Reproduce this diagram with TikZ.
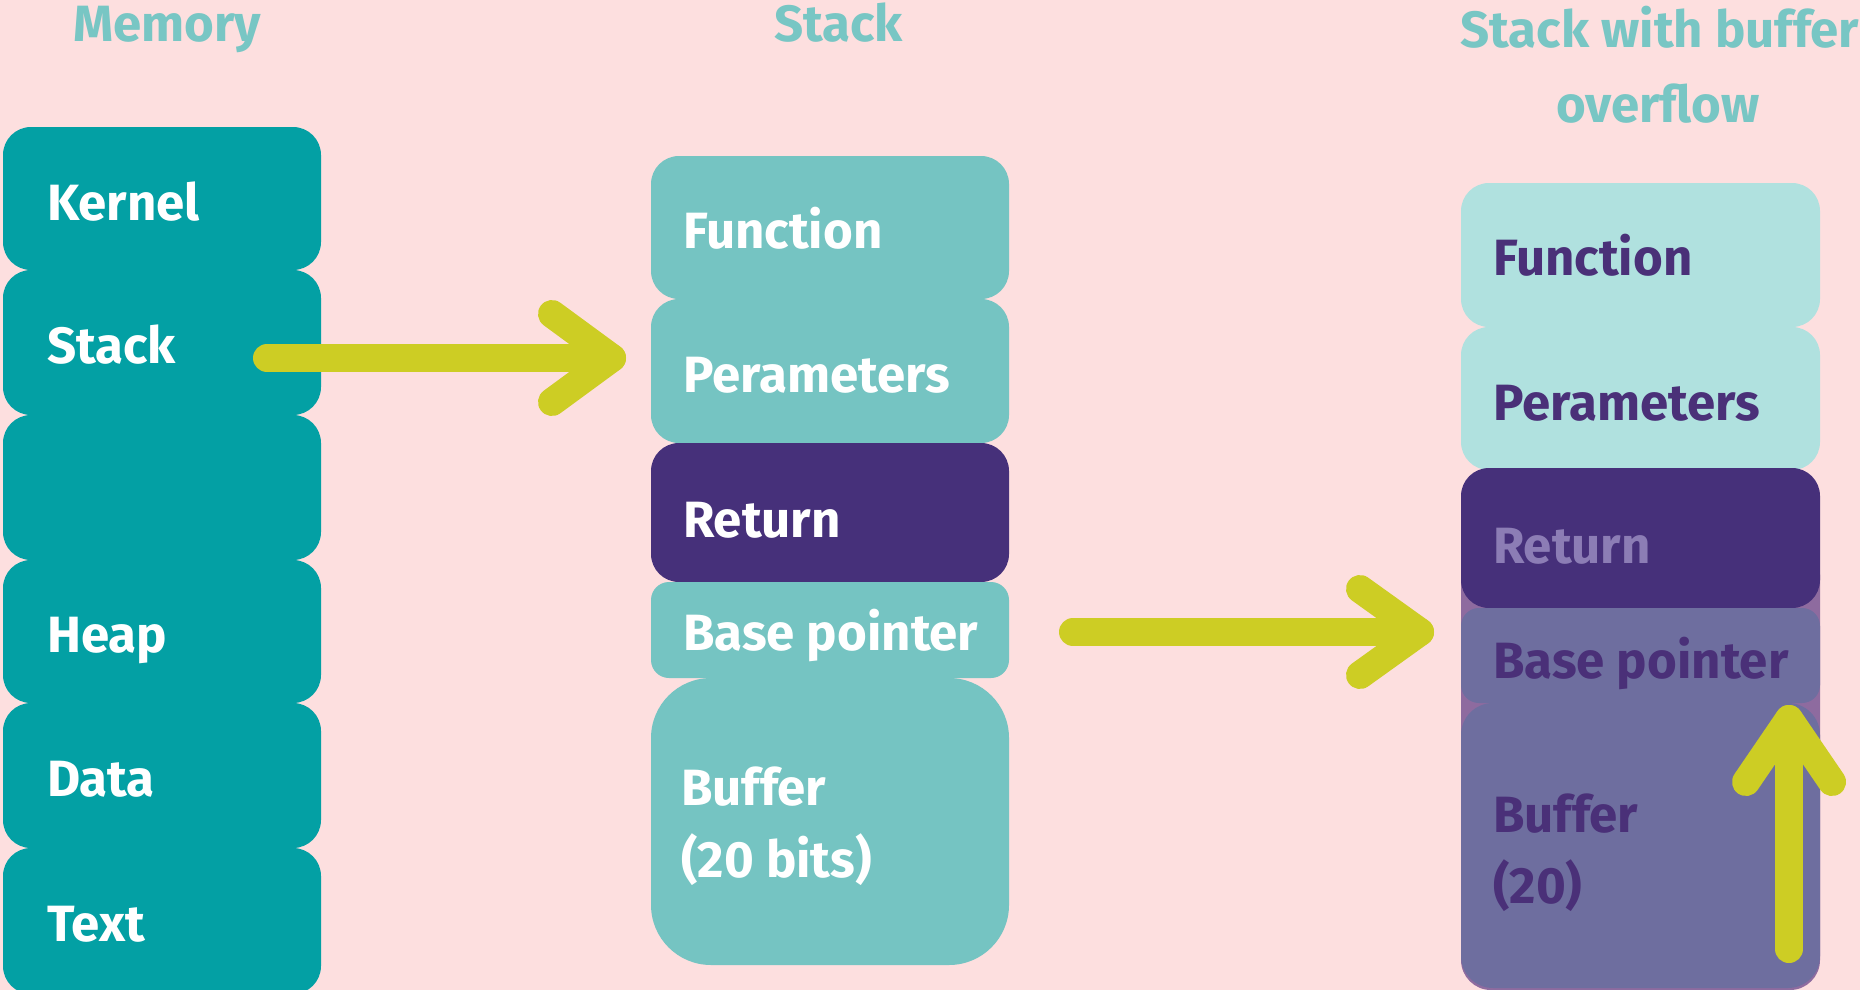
\documentclass[tikz,border=0pt]{standalone}
\usepackage{fontspec}
\setmainfont{Fira Sans}
\definecolor{bgpink}{HTML}{FDDFDF}
\definecolor{memteal}{HTML}{03A0A4}
\definecolor{stackteal}{HTML}{75C4C2}
\definecolor{paleteal}{HTML}{B0E1DF}
\definecolor{titleteal}{HTML}{78C6C4}
\definecolor{deeppurple}{HTML}{46307A}
\definecolor{greypurple}{HTML}{6E6E9F}
\definecolor{mauve}{HTML}{8E6B9F}
\definecolor{fadedpurple}{HTML}{8C7DB5}
\definecolor{inkpurple}{HTML}{4A3078}
\definecolor{arrowyellow}{HTML}{CDCD24}
\tikzset{
  cell/.style={rectangle, inner sep=0pt, outer sep=0pt, anchor=north west,
    rounded corners=28pt},
  memcell/.style={cell, fill=memteal, minimum width=318pt},
  midcell/.style={cell, minimum width=358pt},
  rightcell/.style={cell, minimum width=359pt},
  lbl/.style={anchor=base west, inner sep=0pt,
    font=\fontsize{51}{60}\selectfont\bfseries},
  title/.style={lbl, text=titleteal},
  thick arrow/.style={draw=arrowyellow, line width=28pt, line cap=round,
    line join=round},
}
\begin{document}
\begin{tikzpicture}[x=1pt, y=-1pt]
  \useasboundingbox (0,0) rectangle (1860,990);
  \fill[bgpink] (0,0) rectangle (1860,990);

  % column titles
  \node[title] (tmem) at (73,42) {Memory};
  \node[title] (tstack) at (774,42) {Stack};
  \node[title, anchor=base] (tover1) at (1660,48) {Stack with buffer};
  \node[title, anchor=base] (tover2) at (1658,122) {overflow};

  % memory layout
  \node[memcell, minimum height=143pt] (mkernel) at (3,127) {};
  \node[memcell, minimum height=145pt] (mstack)  at (3,270) {};
  \node[memcell, minimum height=145pt] (mfree)   at (3,415) {};
  \node[memcell, minimum height=143pt] (mheap)   at (3,560) {};
  \node[memcell, minimum height=145pt] (mdata)   at (3,703) {};
  \node[memcell, minimum height=146pt] (mtext)   at (3,848) {};
  \node[lbl, text=white] at (47,220) {Kernel};
  \node[lbl, text=white] at (47,363) {Stack};
  \node[lbl, text=white] at (47,652) {Heap};
  \node[lbl, text=white] at (47,796) {Data};
  \node[lbl, text=white] at (47,941) {Text};

  % normal stack frame
  \node[midcell, fill=stackteal, minimum height=143pt] (sfunc)  at (651,156) {};
  \node[midcell, fill=stackteal, minimum height=144pt] (sparam) at (651,299) {};
  \node[midcell, fill=deeppurple, minimum height=139pt] (sret)  at (651,443) {};
  \node[midcell, fill=stackteal, minimum height=96pt, rounded corners=18pt] (sbase) at (651,582) {};
  \node[midcell, fill=stackteal, minimum height=287pt, rounded corners=60pt] (sbuf) at (651,678) {};
  \node[lbl, text=white] at (683,248) {Function};
  \node[lbl, text=white] at (683,392) {Perameters};
  \node[lbl, text=white] at (683,537) {Return};
  \node[lbl, text=white] at (683,650) {Base pointer};
  \node[lbl, text=white] at (681,805) {Buffer};
  \node[lbl, text=white] at (681,877) {(20 bits)};

  % stack frame after the overflow
  \fill[mauve, rounded corners=30pt] (1461,545) rectangle (1820,990);
  \node[rightcell, fill=paleteal, minimum height=144pt] (ofunc)  at (1461,183) {};
  \node[rightcell, fill=paleteal, minimum height=143pt] (oparam) at (1461,327) {};
  \node[rightcell, fill=deeppurple, minimum height=140pt] (oret) at (1461,468) {};
  \node[rightcell, fill=greypurple, minimum height=95pt, rounded corners=18pt] (obase) at (1461,608) {};
  \node[rightcell, fill=greypurple, minimum height=285pt, rounded corners=32pt] (obuf) at (1461,703) {};
  \node[lbl, text=inkpurple] at (1493,275) {Function};
  \node[lbl, text=inkpurple] at (1493,420) {Perameters};
  \node[lbl, text=fadedpurple] at (1493,563) {Return};
  \node[lbl, text=inkpurple] at (1493,678) {Base pointer};
  \node[lbl, text=inkpurple] at (1493,832) {Buffer};
  \node[lbl, text=inkpurple] at (1493,903) {(20)};

  % memory stack -> stack frame
  \coordinate (a1s) at (mstack.west |- 0,358);
  \coordinate (a1s) at ([xshift=264pt]a1s);
  \coordinate (a1t) at ([xshift=-39pt]sparam.west |- 0,358);
  \coordinate (a1u) at ([shift={(-60pt,44pt)}]a1t);
  \coordinate (a1d) at ([shift={(-60pt,-44pt)}]a1t);
  \draw[thick arrow] (a1s) -- (a1t);
  \draw[thick arrow] (a1u) -- (a1t) -- (a1d);

  % stack frame -> overflowed frame
  \coordinate (a2s) at ([xshift=64pt]sbase.east |- 0,632);
  \coordinate (a2t) at ([xshift=-41pt]obase.west |- 0,632);
  \coordinate (a2u) at ([shift={(-60pt,43pt)}]a2t);
  \coordinate (a2d) at ([shift={(-60pt,-43pt)}]a2t);
  \draw[thick arrow] (a2s) -- (a2t);
  \draw[thick arrow] (a2u) -- (a2t) -- (a2d);

  % buffer growing into the base pointer
  \coordinate (a3s) at (obuf.south -| 1789,0);
  \coordinate (a3s) at ([yshift=39pt]a3s);
  \coordinate (a3t) at ([yshift=-16pt]obase.south -| 1789,0);
  \coordinate (a3l) at ([shift={(-43pt,-63pt)}]a3t);
  \coordinate (a3r) at ([shift={(43pt,-63pt)}]a3t);
  \draw[thick arrow] (a3s) -- (a3t);
  \draw[thick arrow] (a3l) -- (a3t) -- (a3r);
\end{tikzpicture}
\end{document}
